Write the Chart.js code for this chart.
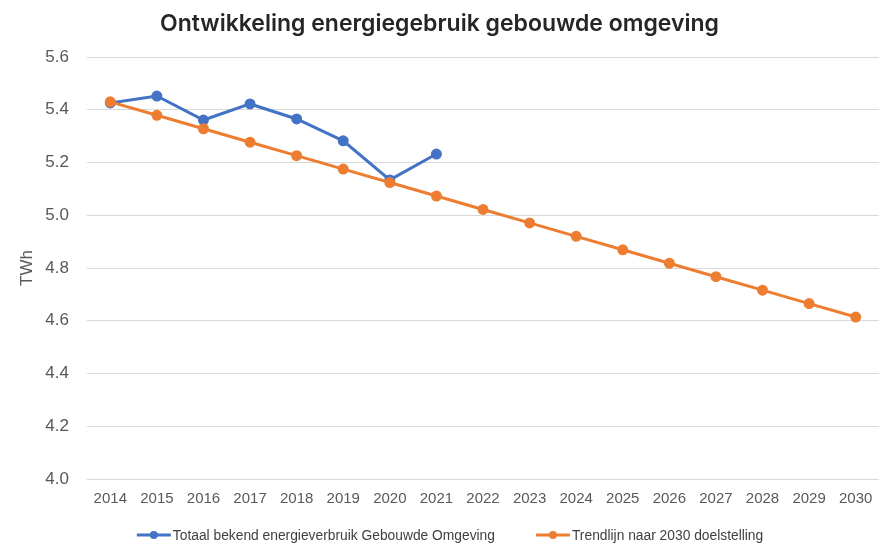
<!DOCTYPE html>
<html>
<head>
<meta charset="utf-8">
<script src="https://cdn.jsdelivr.net/npm/chart.js@4.4.1/dist/chart.umd.min.js"></script>
<style>
  html, body { margin: 0; padding: 0; background: #ffffff; }
  #wrap { width: 880px; height: 544px; }
</style>
</head>
<body>
<div id="wrap"><canvas id="c" width="880" height="544"></canvas></div>
<script>
const years = ['2014','2015','2016','2017','2018','2019','2020','2021','2022','2023','2024','2025','2026','2027','2028','2029','2030'];
const actualUse = [5.426, 5.452, 5.361, 5.422, 5.365, 5.282, 5.134, 5.232, null, null, null, null, null, null, null, null, null];
const trendline = [5.430, 5.379, 5.328, 5.277, 5.226, 5.175, 5.124, 5.073, 5.022, 4.971, 4.920, 4.869, 4.818, 4.767, 4.716, 4.665, 4.614];
const seriesNames = ['Totaal bekend energieverbruik Gebouwde Omgeving', 'Trendlijn naar 2030 doelstelling'];
const chartTitle = 'Ontwikkeling energiegebruik gebouwde omgeving';
const yAxisTitle = 'TWh';

const BLUE = '#4472C4';
const ORANGE = '#ED7D31';

const customLegend = {
  id: 'customLegend',
  afterDraw(chart) {
    const ctx = chart.ctx;
    ctx.save();
    ctx.font = '13.8px "Liberation Sans", Arial, sans-serif';
    const markerW = 34, gapText = 2, gapItems = 41;
    const items = chart.data.datasets.map(ds => ({
      label: ds.label, color: ds.borderColor, w: markerW + gapText + ctx.measureText(ds.label).width
    }));
    const total = items.reduce((s, it) => s + it.w, 0) + gapItems * (items.length - 1);
    let x = chart.width / 2 + 10 - total / 2;
    const y = 535;
    items.forEach(it => {
      ctx.strokeStyle = it.color;
      ctx.lineWidth = 3;
      ctx.beginPath();
      ctx.moveTo(x, y);
      ctx.lineTo(x + markerW, y);
      ctx.stroke();
      ctx.fillStyle = it.color;
      ctx.beginPath();
      ctx.arc(x + markerW / 2, y, 4, 0, Math.PI * 2);
      ctx.fill();
      ctx.fillStyle = '#404040';
      ctx.textBaseline = 'middle';
      ctx.textAlign = 'left';
      ctx.fillText(it.label, x + markerW + gapText, y + 1);
      x += it.w + gapItems;
    });
    ctx.restore();
  }
};

new Chart(document.getElementById('c'), {
  type: 'line',
  data: {
    labels: years,
    datasets: [
      {
        label: seriesNames[0],
        data: actualUse,
        borderColor: BLUE,
        backgroundColor: BLUE,
        pointBackgroundColor: BLUE,
        pointBorderColor: BLUE,
        borderWidth: 3,
        pointRadius: 4,
        tension: 0,
        spanGaps: false,
        order: 1
      },
      {
        label: seriesNames[1],
        data: trendline,
        borderColor: ORANGE,
        backgroundColor: ORANGE,
        pointBackgroundColor: ORANGE,
        pointBorderColor: ORANGE,
        borderWidth: 3,
        pointRadius: 4,
        tension: 0,
        order: 0
      }
    ]
  },
  options: {
    responsive: false,
    animation: false,
    layout: { autoPadding: false, padding: { left: 0, right: 1, top: 0, bottom: 40 } },
    plugins: {
      legend: { display: false },
      tooltip: { enabled: false },
      title: {
        display: true,
        text: chartTitle,
        color: '#262626',
        font: { family: 'Inter, "Open Sans", sans-serif', size: 23, weight: '600' },
        padding: { top: 10.2, bottom: 19.2 }
      }
    },
    scales: {
      x: {
        offset: true,
        grid: { display: false, drawTicks: false },
        border: { display: false },
        ticks: {
          color: '#595959',
          font: { family: '"Liberation Sans", Arial, sans-serif', size: 15 },
          padding: 11,
          maxRotation: 0,
          autoSkip: false
        },
        afterFit(scale) { scale.height = 25; scale.paddingLeft = 0; scale.paddingRight = 0; }
      },
      y: {
        min: 4.0,
        max: 5.6,
        grid: { color: '#d9d9d9', lineWidth: 1, drawTicks: false },
        border: { display: false },
        ticks: {
          stepSize: 0.2,
          color: '#595959',
          font: { family: '"Liberation Sans", Arial, sans-serif', size: 17 },
          padding: 18,
          callback: v => Number(v).toFixed(1)
        },
        title: {
          display: true,
          text: yAxisTitle,
          color: '#595959',
          font: { family: '"Liberation Sans", Arial, sans-serif', size: 17 },
          padding: { top: 17, bottom: 0 }
        },
        afterFit(scale) { scale.width = 87; }
      }
    }
  },
  plugins: [customLegend]
});
</script>
</body>
</html>
